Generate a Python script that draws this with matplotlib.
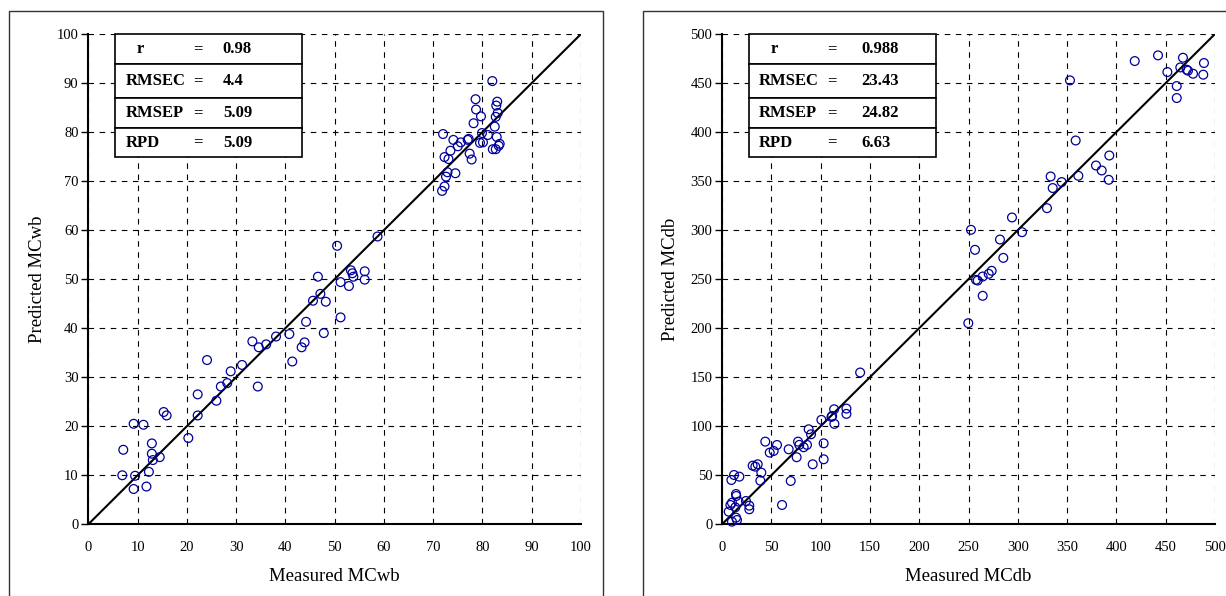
import matplotlib
matplotlib.use("Agg")
import matplotlib.pyplot as plt
from matplotlib.patches import Rectangle

plt.rcParams['font.family'] = ['Liberation Serif', 'DejaVu Serif']

# measured vs predicted moisture content, wet basis
mcwb_meas = [7.1, 6.9, 9.2, 11.2, 9.5, 9.2, 11.8, 12.3, 12.9, 12.9, 13.1, 14.5, 15.3, 15.9,
             20.3, 22.2, 22.2, 24.1, 26.0, 26.9, 28.2, 28.9, 31.2, 33.3, 34.6, 34.4, 36.1,
             38.1, 40.8, 41.4, 43.3, 43.9, 44.2, 45.6, 47.1, 48.2, 47.8, 51.2, 46.6, 51.2,
             52.9, 53.3, 53.6, 53.8, 56.1, 56.1, 50.5, 58.7,
             82.0, 78.6, 83.0, 82.8, 78.7, 79.7, 83.1, 82.7, 78.2, 82.5, 72.0, 79.9, 81.1,
             82.9, 74.1, 77.2, 77.0, 75.6, 75.0, 79.5, 80.1, 83.5, 83.3, 82.1, 82.7, 73.5,
             77.4, 77.8, 72.3, 73.1, 72.9, 74.5, 72.6, 72.3, 71.8]
mcwb_pred = [15.2, 10.0, 20.5, 20.3, 9.9, 7.2, 7.7, 10.7, 16.5, 14.4, 13.1, 13.7, 22.9, 22.2,
             17.6, 22.2, 26.5, 33.5, 25.2, 28.1, 28.8, 31.2, 32.5, 37.3, 36.1, 28.1, 36.7,
             38.3, 38.8, 33.2, 36.1, 37.1, 41.3, 45.6, 47.0, 45.4, 39.0, 42.2, 50.5, 49.4,
             48.6, 51.8, 51.2, 50.5, 51.6, 49.9, 56.8, 58.7,
             90.4, 86.7, 86.2, 85.4, 84.6, 83.2, 83.9, 83.1, 81.8, 81.1, 79.6, 79.8, 79.4,
             79.0, 78.4, 78.6, 78.4, 77.9, 77.1, 77.8, 77.9, 77.6, 77.2, 76.5, 76.5, 76.2,
             75.6, 74.4, 74.9, 74.5, 71.8, 71.6, 70.9, 68.9, 68.0]

# measured vs predicted moisture content, dry basis
mcdb_meas = [10.1, 15.2, 14.2, 6.8, 8.5, 10.1, 13.5, 14.5, 14.2, 16.9, 24.3, 27.7, 27.7, 9.5,
             12.2, 17.6, 38.9, 39.9, 31.1, 33.8, 36.2, 43.9, 48.4, 52.4, 55.8, 60.9, 67.6,
             69.7, 75.7, 77.1, 78.4, 82.8, 86.2, 87.9, 90.3, 92.0, 100.8, 103.1, 103.1, 111.7,
             111.0, 113.7, 114.0, 126.2, 126.2, 140.1,
             249.8, 264.4, 256.6, 252.5, 257.6, 259.3, 264.4, 270.5, 273.5, 285.3, 281.9,
             294.1, 304.3, 329.6, 333.3, 335.4, 344.5, 361.4, 358.7, 352.9, 379.3, 385.1,
             392.8, 392.2, 418.6, 442.2, 451.7, 461.2, 461.2, 467.5, 464.8, 471.3, 472.6,
             477.7, 488.8, 488.1]
mcdb_pred = [2.7, 4.4, 6.8, 12.9, 19.7, 22.0, 17.3, 28.9, 30.9, 23.1, 23.8, 19.0, 15.3, 45.2,
             50.3, 48.6, 44.5, 52.7, 59.8, 58.8, 61.2, 84.3, 73.1, 74.8, 80.9, 19.7, 76.5,
             44.2, 68.4, 84.3, 81.0, 78.6, 81.0, 96.9, 91.8, 61.2, 106.5, 82.6, 66.3, 110.5,
             109.5, 117.3, 102.4, 118.0, 112.6, 154.8,
             205.1, 233.0, 279.9, 300.3, 249.3, 248.6, 252.7, 255.4, 258.5, 271.7, 290.4,
             312.9, 297.9, 322.4, 354.7, 342.9, 349.0, 355.4, 391.4, 452.7, 365.9, 360.8,
             376.1, 351.3, 472.4, 478.2, 461.2, 446.9, 434.7, 475.8, 465.9, 463.6, 462.6,
             459.5, 470.4, 458.5]

stat_names = ['r', 'RMSEC', 'RMSEP', 'RPD']
wb_stats = ['0.98', '4.4', '5.09', '5.09']
db_stats = ['0.988', '23.43', '24.82', '6.63']

fig = plt.figure(figsize=(12.26, 5.96), dpi=100)

# outer panel frames
fig.patches.append(Rectangle((8.5 / 1226, -0.1), (603 - 8.5) / 1226, 1.1 - 11 / 596,
                             transform=fig.transFigure, fill=False, lw=1.0, ec='#333333'))
fig.patches.append(Rectangle((642.5 / 1226, -0.1), 0.5, 1.1 - 11 / 596,
                             transform=fig.transFigure, fill=False, lw=1.0, ec='#333333'))

ax1 = fig.add_axes([88.3 / 1226, 1 - 524.3 / 596, 492.7 / 1226, 490.3 / 596])
ax2 = fig.add_axes([722 / 1226, 1 - 524.3 / 596, 493 / 1226, 490.3 / 596])


def draw_panel(ax, meas, pred, top, step, xlabel, ylabel, stats, val_x):
    ax.set_xlim(0, top)
    ax.set_ylim(0, top)
    ax.set_xticks(range(0, top + 1, step))
    ax.set_yticks(range(0, top + 1, step))
    ax.grid(True, color='black', linestyle=(0, (5, 5)), linewidth=0.8)
    ax.set_axisbelow(True)
    for s in ['top', 'right']:
        ax.spines[s].set_visible(False)
    for s in ['left', 'bottom']:
        ax.spines[s].set_linewidth(1.5)
    ax.tick_params(axis='x', length=0, pad=12, labelsize=10.5)
    ax.tick_params(axis='y', length=5, width=1, pad=2, labelsize=10.5)
    ax.plot([0, top], [0, top], color='black', lw=1.5, zorder=3)
    ax.scatter(meas, pred, s=40, facecolors='none', edgecolors='#000099',
               linewidths=0.9, zorder=4, clip_on=False)
    ax.set_xlabel(xlabel, fontsize=13.5, labelpad=10)
    ax.set_ylabel(ylabel, fontsize=13.5, labelpad=8)

    # statistics box
    edges = [1.0, 0.9388, 0.8694, 0.8083, 0.7491]
    for i, (name, val) in enumerate(zip(stat_names, stats)):
        y0, y1 = edges[i + 1], edges[i]
        ax.add_patch(Rectangle((0.0545, y0), 0.379, y1 - y0, transform=ax.transAxes,
                               facecolor='white', edgecolor='black', lw=1.2, zorder=6,
                               clip_on=False))
        ym = (y0 + y1) / 2
        nx = 0.099 if name == 'r' else 0.0755
        ax.text(nx, ym, name, transform=ax.transAxes, fontsize=12, fontweight='bold',
                va='center', ha='left', zorder=7)
        ax.text(0.222, ym, '=', transform=ax.transAxes, fontsize=12, fontweight='bold',
                va='center', ha='center', zorder=7)
        ax.text(val_x, ym, val, transform=ax.transAxes, fontsize=12, fontweight='bold',
                va='center', ha='left', zorder=7)


draw_panel(ax1, mcwb_meas, mcwb_pred, 100, 10, 'Measured MCwb', 'Predicted MCwb',
           wb_stats, 0.273)
draw_panel(ax2, mcdb_meas, mcdb_pred, 500, 50, 'Measured MCdb', 'Predicted MCdb',
           db_stats, 0.283)

fig.savefig('out.png', dpi=100)
